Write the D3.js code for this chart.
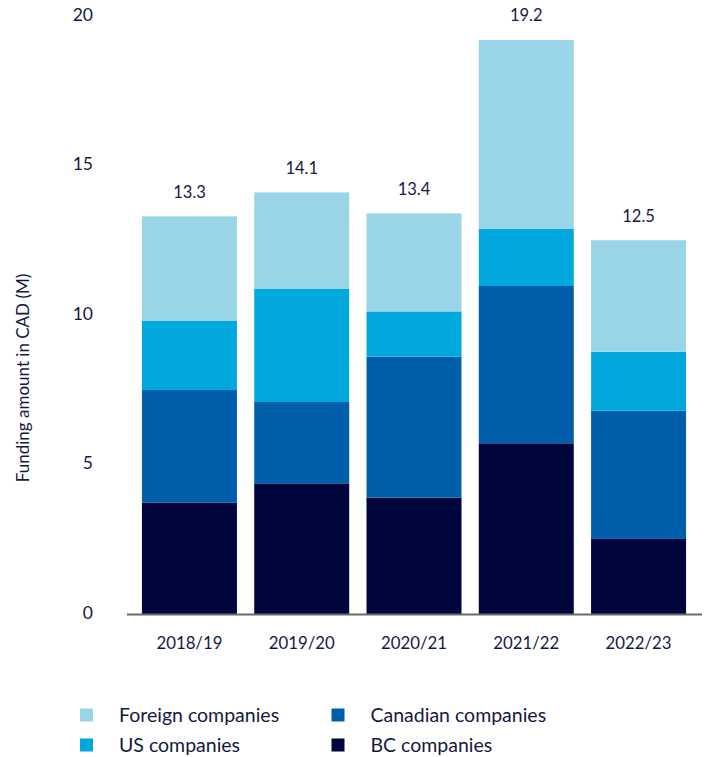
<!DOCTYPE html>
<html>
<head>
<meta charset="utf-8">
<script src="https://cdn.jsdelivr.net/npm/d3@7"></script>
<style>
  html, body { margin: 0; padding: 0; background: #ffffff; }
  svg { display: block; font-family: Lato, "Open Sans", sans-serif; }
</style>
</head>
<body>
<svg id="chart" width="710" height="757"></svg>
<script>
// Funding by company origin, fiscal years
const years = ["2018/19", "2019/20", "2020/21", "2021/22", "2022/23"];
const bcCompanies       = [3.72, 4.37, 3.89, 5.71, 2.51];
const canadianCompanies = [3.77, 2.72, 4.72, 5.26, 4.29];
const usCompanies       = [2.31, 3.78, 1.51, 1.91, 1.97];
const foreignCompanies  = [3.50, 3.23, 3.28, 6.32, 3.73];
const totals            = [13.3, 14.1, 13.4, 19.2, 12.5];
const yTicks = [0, 5, 10, 15, 20];

const seriesNames = ["BC companies", "Canadian companies", "US companies", "Foreign companies"];
const seriesValues = [bcCompanies, canadianCompanies, usCompanies, foreignCompanies];
const colors = {
  "BC companies": "#00053b",
  "Canadian companies": "#005eaa",
  "US companies": "#00a8de",
  "Foreign companies": "#99d5e7"
};
const textColor = "#16193f";

const rows = years.map((y, i) => {
  const r = { year: y };
  seriesNames.forEach((s, k) => { r[s] = seriesValues[k][i]; });
  return r;
});

const svg = d3.select("#chart");

const x = d3.scaleBand()
  .domain(years)
  .range([133.3, 694.7])
  .paddingInner(0.154)
  .paddingOuter(0.077);

const y = d3.scaleLinear().domain([0, 20]).range([614, 16]);

const stack = d3.stack().keys(seriesNames);
const layers = stack(rows);

// Stacked bars
svg.append("g")
  .selectAll("g")
  .data(layers)
  .join("g")
  .attr("fill", d => colors[d.key])
  .selectAll("rect")
  .data(d => d)
  .join("rect")
  .attr("x", d => x(d.data.year))
  .attr("width", x.bandwidth())
  .attr("y", d => y(d[1]))
  .attr("height", d => y(d[0]) - y(d[1]));

// Baseline
svg.append("line")
  .attr("x1", 127).attr("x2", 702)
  .attr("y1", y(0) + 0.5).attr("y2", y(0) + 0.5)
  .attr("stroke", "#6b6b6b")
  .attr("stroke-width", 2);

// Y tick labels
svg.append("g")
  .selectAll("text")
  .data(yTicks)
  .join("text")
  .attr("x", 93)
  .attr("y", d => y(d) - 1.5)
  .attr("dy", "0.35em")
  .attr("text-anchor", "end")
  .attr("font-size", 17.5)
  .attr("fill", textColor)
  .text(d => d);

// Y axis title
svg.append("text")
  .attr("transform", "translate(23,378) rotate(-90)")
  .attr("text-anchor", "middle")
  .attr("dy", "0.35em")
  .attr("font-size", 17)
  .attr("fill", textColor)
  .text("Funding amount in CAD (M)");

// X category labels
svg.append("g")
  .selectAll("text")
  .data(years)
  .join("text")
  .attr("x", d => x(d) + x.bandwidth() / 2)
  .attr("y", 643)
  .attr("dy", "0.35em")
  .attr("text-anchor", "middle")
  .attr("font-size", 16.8)
  .attr("fill", textColor)
  .text(d => d);

// Total labels above bars
svg.append("g")
  .selectAll("text")
  .data(years)
  .join("text")
  .attr("x", d => x(d) + x.bandwidth() / 2)
  .attr("y", (d, i) => y(totals[i]) - 24.5)
  .attr("dy", "0.35em")
  .attr("text-anchor", "middle")
  .attr("font-size", 16.5)
  .attr("fill", textColor)
  .text((d, i) => d3.format(".1f")(totals[i]));

// Legend
const legendItems = [
  { name: "Foreign companies", col: 0, row: 0 },
  { name: "US companies", col: 0, row: 1 },
  { name: "Canadian companies", col: 1, row: 0 },
  { name: "BC companies", col: 1, row: 1 }
];
const legend = svg.append("g");
const item = legend.selectAll("g")
  .data(legendItems)
  .join("g")
  .attr("transform", d => `translate(${d.col === 0 ? 80 : 331.5},${d.row === 0 ? 715 : 745})`);
item.append("rect")
  .attr("x", 0).attr("y", -6.5)
  .attr("width", 13).attr("height", 13)
  .attr("fill", d => colors[d.name]);
item.append("text")
  .attr("x", 39)
  .attr("dy", "0.35em")
  .attr("font-size", 19.5)
  .attr("fill", textColor)
  .text(d => d.name);
</script>
</body>
</html>
